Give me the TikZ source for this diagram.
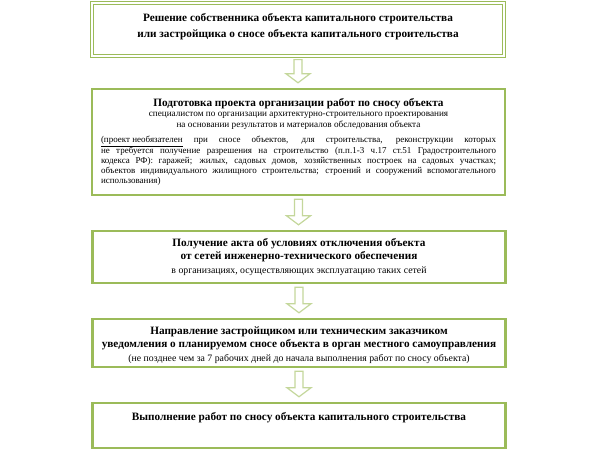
\documentclass[tikz,border=0pt]{standalone}
\usepackage{fontspec}
\setmainfont{Liberation Serif}
\usetikzlibrary{shapes}
\usetikzlibrary{arrows}
\usetikzlibrary{calc}
\definecolor{boxgreen}{RGB}{155,187,89}
\definecolor{arrgreen}{RGB}{196,215,155}
\newcommand{\headfont}{\fontsize{11.25}{13.5}\selectfont\bfseries}
\newcommand{\notefont}{\fontsize{9.8}{11}\selectfont\mdseries}
\begin{document}
\begin{tikzpicture}[x=1pt,y=-1pt,
	every node/.style={rectangle,draw=boxgreen,line width=2.4pt,minimum width=413pt,inner sep=3pt,align=center,font=\headfont},
	firstbox/.style={double,line width=1.2pt,double distance=2.5pt,minimum width=412pt,minimum height=53pt},
	blockarrow/.style={draw=arrgreen,line width=1.2pt,fill=white,
		to path={let \p1=(\tikztostart),\p2=(\tikztotarget) in (\x1-4pt,\y1-3pt) -- (\x1-4pt,\y2+14pt) -- (\x1-12pt,\y2+14pt) -- (\x1,\y2+5pt)
		-- (\x1+12pt,\y2+14pt) -- (\x1+4pt,\y2+14pt) -- (\x1+4pt,\y1-3pt) -- cycle}}
	]
	\useasboundingbox (0,0) rectangle (600,450);
	\node[firstbox,text height=31pt,text depth=16pt] (decision) at (298,29.5) {Решение собственника объекта капитального строительства\\[2.5pt] или застройщика о сносе объекта капитального строительства};
	\node[minimum height=106pt,font=\fontsize{9.2}{11}\selectfont] (project) at (298.5,142) {\parbox{395pt}{{\centering{\headfont Подготовка проекта организации работ по сносу объекта}\\[-1pt]
				специалистом по организации архитектурно-строительного проектирования\\
				на основании результатов и материалов обследования объекта\par}\vspace{5pt}
			{\fontsize{9}{10}\selectfont\underline{(проект необязателен} при сносе объектов, для строительства, реконструкции которых\linebreak
				не требуется получение разрешения на строительство (п.п.1-3 ч.17 ст.51 Градостроительного\linebreak
				кодекса РФ): гаражей; жилых, садовых домов, хозяйственных построек на садовых участках;\linebreak
				объектов индивидуального жилищного строительства; строений и сооружений вспомогательного\linebreak
				использования)\par}}};
	\node[minimum height=52pt] (networks) at (299,257) {Получение акта об условиях отключения объекта\\ от сетей инженерно-технического обеспечения\\
		{\notefont в организациях, осуществляющих эксплуатацию таких сетей}};
	\node[minimum height=48pt,text height=39pt,text depth=3pt] (notice) at (299,343) {Направление застройщиком или техническим заказчиком\\ уведомления о планируемом сносе объекта в орган местного самоуправления\\
		{\notefont (не позднее чем за 7 рабочих дней до начала выполнения работ по сносу объекта)}};
	\node[minimum height=45pt,text height=12pt,text depth=23pt,inner ysep=5pt] (demolition) at (299,425.5) {Выполнение работ по сносу объекта капитального строительства};
	\coordinate (next) at (299,480);
	% arrows between the steps
	\draw[blockarrow] (decision.south) to (project.north);
	\draw[blockarrow] (project.south) to (networks.north);
	\draw[blockarrow] (networks.south) to (notice.north);
	\draw[blockarrow] (notice.south) to (demolition.north);
	\draw[blockarrow] (demolition.south) to (next);
\end{tikzpicture}
\end{document}
